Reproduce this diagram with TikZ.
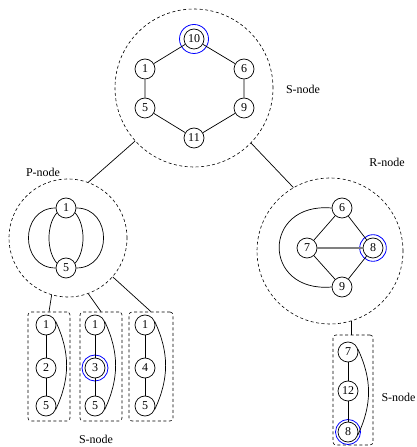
\documentclass[tikz,border=0pt]{standalone}
\usepackage{fontspec}
\setmainfont{Liberation Serif}
\begin{document}
\begin{tikzpicture}[x=1pt,y=1pt,
  vtx/.style={circle,draw,fill=white,minimum size=20pt,inner sep=0pt,line width=0.7pt,font=\fontsize{12}{14}\selectfont},
  region/.style={circle,draw,dash pattern=on 3pt off 2.5pt,line width=0.6pt,inner sep=0pt},
  sbox/.style={draw,dash pattern=on 3pt off 2.5pt,rounded corners=3pt,line width=0.6pt,inner sep=0pt},
  lbl/.style={font=\fontsize{12}{14}\selectfont},
  ring/.style={draw=blue,line width=0.8pt},
  edge/.style={line width=0.7pt},
  virt/.style={draw=gray,line width=1.3pt}]
\useasboundingbox (0,0) rectangle (417,447);
% region containers
\node[region,minimum size=158pt] (S) at (194,359) {};
\node[region,minimum size=118pt] (P) at (68,209) {};
\node[region,minimum size=146pt] (R) at (330,196) {};
\node[sbox,minimum width=42pt,minimum height=109pt] (b1) at (49,80.5) {};
\node[sbox,minimum width=42pt,minimum height=109pt] (b2) at (101,80.5) {};
\node[sbox,minimum width=44pt,minimum height=109pt] (b3) at (151,80.5) {};
\node[sbox,minimum width=40pt,minimum height=110pt] (rb) at (353,57) {};
% labels
\node[lbl] (lS) at (303,358) {S-node};
\node[lbl] (lP) at (43,275) {P-node};
\node[lbl] (lR) at (387,285) {R-node};
\node[lbl] (lSb) at (96,8) {S-node};
\node[lbl] (lSr) at (398.5,50) {S-node};
% tree connectors
\draw[edge] (S.222) -- (P.70);
\draw[edge] (S.316) -- (R.120);
\draw[edge] (P.254) -- (b1.north);
\draw[edge] (P.290) -- (b2.north);
\draw[edge] (P.319) -- (b3.north);
\draw[edge] (R.287) -- (R.287 |- rb.north);
% top S-node cycle
\node[vtx] (t10) at (194,408) {10};
\node[vtx] (t1) at (145,378) {1};
\node[vtx] (t6) at (244,378) {6};
\node[vtx] (t5) at (145,339) {5};
\node[vtx] (t9) at (244,339) {9};
\node[vtx] (t11) at (194,309) {11};
\draw[ring] (t10) circle[radius=14.5];
\draw[edge] (t10) -- (t1) -- (t5) -- (t11) -- (t9) -- (t6) -- (t10);
% P-node
\node[vtx] (p1) at (66,239) {1};
\node[vtx] (p5) at (66,179) {5};
\draw[edge] (p1.208) .. controls +(229:16) and +(131:16) .. (p5.152);
\draw[edge] (p1.-28) .. controls +(-49:16) and +(49:16) .. (p5.28);
\draw[edge] (p1.east) to[out=0,in=0,looseness=1.55] (p5.east);
\draw[edge] (p1.west) to[out=180,in=180,looseness=1.55] (p5.west);
% R-node
\node[vtx] (r6) at (342,239) {6};
\node[vtx] (r7) at (307,199) {7};
\node[vtx] (r8) at (373,199) {8};
\node[vtx] (r9) at (342,160) {9};
\draw[ring] (r8) circle[radius=13.3];
\draw[edge] (r6) -- (r7) -- (r9) -- (r8) -- (r6);
\draw[virt] (r7) -- (r8);
\draw[edge] (r6.west) .. controls +(-70,6) and +(-70,-6) .. (r9.west);
% bottom S-nodes
\node[vtx] (a1) at (46,122) {1};
\node[vtx] (a2) at (46,79) {2};
\node[vtx] (a5) at (46,41) {5};
\draw[edge] (a1) -- (a2) -- (a5);
\draw[edge] (a1.20) to[out=-65,in=65] (a5.-20);
\node[vtx] (c1) at (95,122) {1};
\node[vtx] (c3) at (95,79) {3};
\node[vtx] (c5) at (95,41) {5};
\draw[ring] (c3) circle[radius=13];
\draw[edge] (c1) -- (c3) -- (c5);
\draw[edge] (c1.20) to[out=-65,in=65] (c5.-20);
\node[vtx] (d1) at (145,122) {1};
\node[vtx] (d4) at (145,79) {4};
\node[vtx] (d5) at (145,41) {5};
\draw[edge] (d1) -- (d4) -- (d5);
\draw[edge] (d1.20) to[out=-65,in=65] (d5.-20);
% right S-node
\node[vtx] (e7) at (348,95) {7};
\node[vtx] (e12) at (348,56) {12};
\node[vtx] (e8) at (348,15) {8};
\draw[ring] (e8) circle[radius=12.5];
\draw[edge] (e7) -- (e12) -- (e8);
\draw[edge] (e7.15) to[out=-65,in=65] (e8.-15);
\end{tikzpicture}
\end{document}
